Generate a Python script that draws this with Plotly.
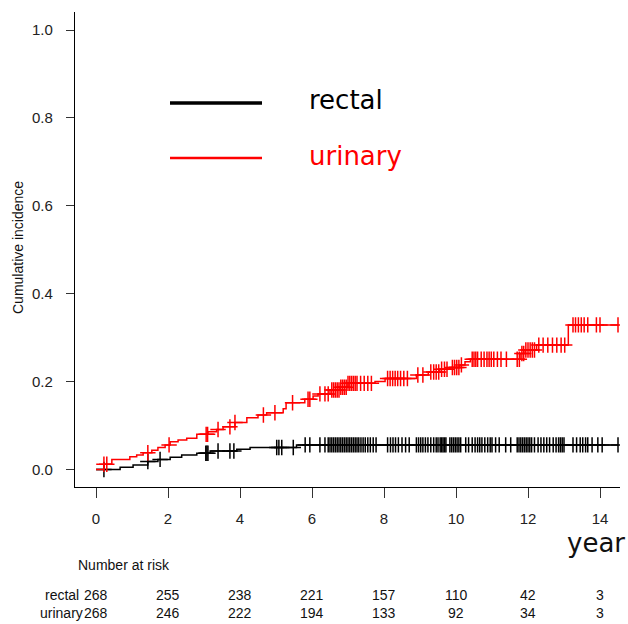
import numpy as np
import plotly.graph_objects as go

# ---------------- data ----------------
rectal_t = [0, 0.67, 1.03, 1.44, 1.72, 2.06, 2.38, 2.80, 3.17, 3.91, 4.28, 5.57, 14.5]
rectal_v = [0, 0.005, 0.010, 0.018, 0.023, 0.028, 0.033, 0.037, 0.042, 0.046, 0.050, 0.056, 0.056]

urinary_t = [0, 0.22, 0.44, 0.94, 1.13, 1.31, 1.55, 1.72, 1.92, 2.06, 2.28, 2.52, 2.80, 3.11,
             3.35, 3.53, 3.86, 4.19, 4.50, 4.74, 5.20, 5.28, 5.80, 6.03, 6.17, 6.50, 6.78,
             7.00, 7.75, 8.03, 8.90, 9.23, 9.55, 9.83, 10.10, 10.25, 10.40, 11.78, 11.92,
             12.24, 13.12, 14.5]
urinary_v = [0, 0.012, 0.023, 0.029, 0.033, 0.038, 0.044, 0.050, 0.056, 0.063, 0.067, 0.071,
             0.080, 0.086, 0.091, 0.097, 0.107, 0.118, 0.124, 0.129, 0.138, 0.152, 0.160, 0.167,
             0.172, 0.181, 0.187, 0.196, 0.200, 0.207, 0.215, 0.222, 0.228, 0.232, 0.238, 0.245,
             0.251, 0.264, 0.272, 0.283, 0.329, 0.329]

rectal_censor = [0.22, 1.44, 1.78, 3.05, 3.08, 3.11, 3.39, 3.72, 3.83,
                 5.02, 5.08, 5.16, 5.48, 5.81, 5.94, 6.22, 6.36,
                 6.45, 6.50, 6.55, 6.60, 6.65, 6.70, 6.75, 6.80, 6.85, 6.90, 6.95, 7.00,
                 7.05, 7.10, 7.15, 7.20,
                 7.25, 7.30, 7.36, 7.42, 7.48, 7.55, 7.62, 7.70, 7.78,
                 8.10, 8.18, 8.25, 8.32, 8.40, 8.50, 8.60, 8.70,
                 8.90, 8.96, 9.02, 9.08, 9.15, 9.22, 9.30, 9.38, 9.45, 9.50,
                 9.56, 9.60, 9.64, 9.68, 9.72,
                 9.83, 9.88, 9.93, 9.98, 10.03, 10.08, 10.13,
                 10.27, 10.35, 10.45, 10.53, 10.60, 10.66, 10.72,
                 10.80, 10.88, 10.95, 11.00, 11.10, 11.20, 11.38, 11.52,
                 11.70, 11.75, 11.80, 11.85, 11.90, 11.95, 12.00, 12.05, 12.10, 12.18,
                 12.28, 12.36, 12.44, 12.52, 12.60, 12.70, 12.78,
                 12.85, 12.90, 12.95, 13.00,
                 13.25, 13.35, 13.45, 13.52, 13.60, 13.66,
                 13.78, 13.94, 14.06, 14.50]

urinary_censor = [0.22, 0.30, 1.44, 2.03, 3.06, 3.10, 3.39, 3.72, 3.86,
                  4.65, 4.97, 5.46, 5.89, 5.94, 6.22, 6.36, 6.45,
                  6.55, 6.60, 6.65, 6.70, 6.75, 6.80, 6.85, 6.90, 6.95, 7.00, 7.05, 7.10,
                  7.15, 7.20, 7.25,
                  7.35, 7.45, 7.55, 7.65,
                  8.10, 8.17, 8.24, 8.31, 8.38, 8.46, 8.55, 8.65,
                  8.94, 9.08,
                  9.30, 9.38, 9.45, 9.52, 9.60, 9.68, 9.75,
                  9.90, 9.96, 10.02, 10.08, 10.15,
                  10.45, 10.50, 10.55, 10.60, 10.70, 10.78, 10.86, 10.92, 10.98,
                  11.05, 11.15, 11.25, 11.40,
                  11.70, 11.76, 11.83, 11.88, 11.94, 12.00, 12.06, 12.12, 12.18,
                  12.30, 12.42, 12.55, 12.68, 12.80, 12.92, 13.02,
                  13.25, 13.32, 13.40, 13.48, 13.56, 13.66,
                  13.90, 14.00, 14.50]

risk_times = [0, 2, 4, 6, 8, 10, 12, 14]
rectal_risk = [268, 255, 238, 221, 157, 110, 42, 3]
urinary_risk = [268, 246, 222, 194, 133, 92, 34, 3]

x_ticks = [0, 2, 4, 6, 8, 10, 12, 14]
y_ticks = [0.0, 0.2, 0.4, 0.6, 0.8, 1.0]

series = [
    ("rectal", rectal_t, rectal_v, rectal_censor, "#000000"),
    ("urinary", urinary_t, urinary_v, urinary_censor, "#ff0000"),
]


def step_value(ts, vs, x):
    idx = np.searchsorted(np.asarray(ts), np.asarray(x), side="right") - 1
    return np.asarray(vs)[np.clip(idx, 0, len(vs) - 1)]


# ---------------- figure ----------------
W, H = 628, 624
ML, MR, MT, MB = 75, 8, 12, 137
pw, ph = W - ML - MR, H - MT - MB


def px(xp):
    return (xp - ML) / pw


def py(yp):
    return (H - MB - yp) / ph


fig = go.Figure()
for name, ts, vs, cens, col in series:
    fig.add_trace(go.Scatter(x=ts, y=vs, mode="lines", line=dict(color=col, width=1.5, shape="hv"),
                             name=name, showlegend=False, hoverinfo="skip"))
    fig.add_trace(go.Scatter(x=cens, y=step_value(ts, vs, cens), mode="markers",
                             marker=dict(symbol="cross-thin", size=11, line=dict(color=col, width=1.5)),
                             showlegend=False, hoverinfo="skip"))

font_axis = dict(family="Liberation Sans, Arial, sans-serif", size=15, color="#222222")

fig.update_xaxes(range=[(ML - 96) / 36, (W - MR - 96) / 36], tickvals=x_ticks,
                 ticktext=[str(v) for v in x_ticks], showline=True, linecolor="black",
                 linewidth=1.4, ticks="outside", ticklen=10, tickwidth=1, tickcolor="#333",
                 showgrid=False, zeroline=False, tickfont=font_axis, ticklabelstandoff=8)
fig.update_yaxes(range=[-(H - MB - 469.5) / 439.5, (469.5 - MT) / 439.5], tickvals=y_ticks,
                 ticktext=[f"{v:.1f}" for v in y_ticks], showline=True, linecolor="black",
                 linewidth=1.4, ticks="outside", ticklen=8, tickwidth=1, tickcolor="#333",
                 showgrid=False, zeroline=False, tickfont=font_axis, ticklabelstandoff=10)

annotations = []
# y title
annotations.append(dict(x=px(18), y=py(248), xref="paper", yref="paper", text="Cumulative incidence",
                         textangle=-90, showarrow=False, xanchor="center", yanchor="middle",
                         font=dict(family="Liberation Sans, Arial, sans-serif", size=14, color="#111")))
# legend
big = dict(family="DejaVu Sans, Verdana, sans-serif", size=26)
fig.add_shape(type="line", xref="paper", yref="paper", x0=px(170), x1=px(262), y0=py(103), y1=py(103),
              line=dict(color="black", width=3.5))
fig.add_shape(type="line", xref="paper", yref="paper", x0=px(170), x1=px(262), y0=py(158), y1=py(158),
              line=dict(color="#ff0000", width=2.5))
annotations.append(dict(x=px(307), y=py(100), xref="paper", yref="paper", text="rectal",
                         xanchor="left", yanchor="middle", showarrow=False, font=dict(**big, color="black")))
annotations.append(dict(x=px(307), y=py(156), xref="paper", yref="paper", text="urinary",
                         xanchor="left", yanchor="middle", showarrow=False, font=dict(**big, color="#ff0000")))
# x label "year"
annotations.append(dict(x=px(627), y=py(543), xref="paper", yref="paper", text="year",
                         xanchor="right", yanchor="middle", showarrow=False, font=dict(**big, color="#111")))
# number at risk
small = dict(family="Liberation Sans, Arial, sans-serif", size=14, color="#111")
annotations.append(dict(x=px(76), y=py(565), xref="paper", yref="paper", text="Number at risk",
                         xanchor="left", yanchor="middle", showarrow=False, font=small))
for label, vals, ypix, xr in [("rectal", rectal_risk, 595, 81), ("urinary", urinary_risk, 613, 85)]:
    annotations.append(dict(x=px(xr), y=py(ypix), xref="paper", yref="paper", text=label,
                             xanchor="right", yanchor="middle", showarrow=False, font=small))
    for t, n in zip(risk_times, vals):
        annotations.append(dict(x=t, y=py(ypix), xref="x", yref="paper", text=str(n),
                                 xanchor="center", yanchor="middle", showarrow=False, font=small))

fig.update_layout(width=W, height=H, margin=dict(l=ML, r=MR, t=MT, b=MB, autoexpand=False),
                  plot_bgcolor="white", paper_bgcolor="white", annotations=annotations,
                  showlegend=False)

fig.write_html("out.html", config={"displayModeBar": False},
               post_script="document.body.style.margin='0';document.body.style.overflow='hidden';")
